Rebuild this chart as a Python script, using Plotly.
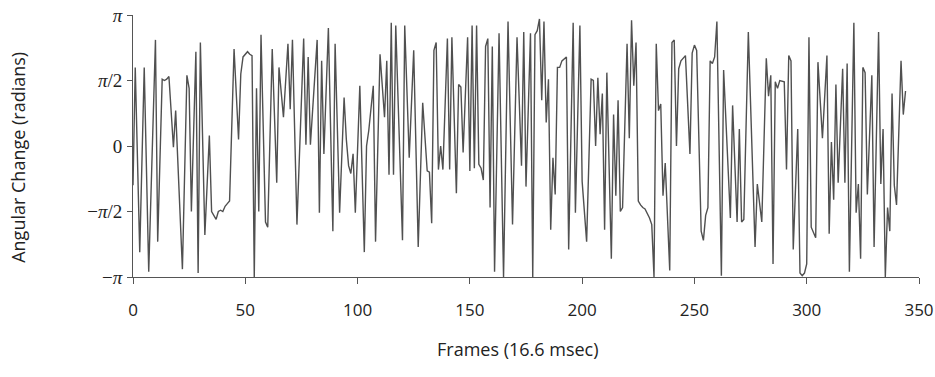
import numpy as np
import plotly.graph_objects as go

# frame indices of line vertices and angular change (in units of pi)
frames = [0, 1, 3, 5, 7, 10, 11, 13, 14, 15, 16, 18, 19, 22, 24, 25, 26, 28, 29, 30,
          32, 34, 35, 36, 37, 38, 39, 40, 41, 42, 43, 45, 47, 48, 49, 51, 52, 53, 54, 55,
          56, 57, 59, 60, 62, 64, 65, 67, 69, 70, 71, 73, 76, 77, 78, 79, 82, 83, 84, 85,
          87, 89, 90, 92, 94, 95, 96, 97, 98, 99, 101, 103, 104, 105, 107, 108, 110, 112, 113, 114,
          115, 116, 117, 120, 121, 123, 125, 127, 129, 131, 132, 133, 134, 135, 136, 137, 138, 140, 141, 142,
          144, 145, 146, 147, 149, 150, 151, 152, 153, 154, 155, 156, 157, 158, 159, 160, 161, 163, 165, 167,
          169, 171, 173, 174, 175, 177, 178, 179, 180, 181, 182, 183, 184, 185, 186, 187, 188, 189, 190, 191,
          193, 194, 196, 197, 199, 200, 202, 204, 205, 206, 207, 208, 209, 210, 211, 213, 214, 215, 216, 217,
          218, 220, 221, 222, 223, 224, 225, 226, 227, 228, 230, 231, 232, 233, 234, 235, 236, 237, 239, 240,
          241, 242, 243, 244, 246, 248, 249, 250, 251, 253, 254, 255, 256, 257, 258, 259, 260, 262, 263, 266,
          267, 269, 270, 271, 272, 274, 277, 278, 280, 282, 283, 284, 285, 286, 287, 288, 290, 291, 292, 293,
          294, 296, 297, 298, 299, 300, 301, 302, 304, 305, 307, 309, 310, 311, 312, 313, 314, 316, 317, 318,
          319, 321, 322, 323, 324, 325, 326, 327, 329, 330, 332, 333, 334, 335, 336, 337, 338, 339, 340, 342,
          343, 344]
change_pi = [-0.30, 0.60, -0.81, 0.60, -0.96, 0.81, -0.73, 0.51, 0.50, 0.51, 0.53, -0.01, 0.27, -0.94, 0.54, 0.44, -0.50, 0.72, -0.97, 0.79,
             -0.68, 0.08, -0.50, -0.53, -0.56, -0.50, -0.49, -0.50, -0.46, -0.44, -0.42, 0.74, 0.05, 0.55, 0.68, 0.72, 0.70, 0.69, -1.00, 0.44,
             -0.50, 0.85, -0.58, -0.62, 0.74, -0.28, 0.60, 0.22, 0.78, 0.28, 0.81, -0.60, 0.82, 0.01, 0.68, 0.01, 0.81, -0.51, 0.65, -0.06,
             0.90, -0.65, 0.78, -0.51, 0.37, 0.05, -0.15, -0.21, -0.06, -0.51, 0.46, -0.81, 0.00, 0.12, 0.46, -0.73, 0.70, 0.22, 0.65, -0.22,
             0.94, -0.22, 0.92, -0.72, 0.92, -0.09, 0.73, -0.77, 0.33, -0.19, -0.20, -0.59, 0.73, 0.79, -0.18, 0.00, -0.18, 0.82, -0.18, 0.83,
             -0.36, 0.47, 0.45, -0.05, 0.83, -0.19, 0.92, -0.17, 0.92, -0.14, -0.17, -0.26, 0.76, 0.82, -0.47, 0.76, -0.96, 0.86, -1.00, 0.95,
             -0.60, 0.83, -0.15, 0.87, -0.31, 0.86, -1.00, 0.85, 0.88, 0.97, 0.35, 0.95, 0.18, 0.51, -0.64, -0.09, -0.37, 0.60, 0.60, 0.65,
             0.68, -0.79, 0.94, -0.51, 0.92, -0.27, -0.73, 0.51, 0.50, 0.00, 0.52, 0.09, 0.40, -0.64, 0.56, -0.86, 0.24, -0.38, 0.35, -0.50,
             -0.47, 0.78, 0.06, 0.96, 0.46, 0.79, -0.42, -0.45, -0.47, -0.48, -0.55, -0.60, -1.00, 0.78, 0.27, 0.32, -0.38, -0.13, -0.95, 0.79,
             0.81, 0.00, 0.59, 0.65, 0.69, -0.06, 0.71, 0.77, 0.73, -0.65, -0.72, -0.53, -0.47, 0.65, 0.63, 0.68, 0.95, -0.99, 0.58, -0.55,
             0.31, -0.58, 0.13, -0.58, -0.56, 0.87, -0.77, -0.29, -0.58, 0.67, 0.38, 0.54, -0.90, 0.49, 0.44, 0.50, 0.49, -0.18, 0.69, 0.65,
             -0.79, 0.13, -0.97, -0.99, -0.97, -0.90, 0.83, -0.62, -0.70, 0.64, 0.06, 0.69, -0.67, 0.03, -0.41, 0.47, -0.28, 0.59, -0.28, 0.63,
             -0.96, 0.94, -0.51, -0.29, -0.86, 0.60, 0.56, -0.37, 0.54, -0.77, 0.87, -0.29, 0.13, -1.00, -0.47, -0.65, 0.40, -0.30, -0.45, 0.65,
             0.24, 0.42]

x_ticks = [0, 50, 100, 150, 200, 250, 300, 350]
y_tick_vals_pi = [-1, -0.5, 0, 0.5, 1]
y_tick_text = ["\u2212<i>\u03c0</i>", "\u2212<i>\u03c0</i>/2", "0", "<i>\u03c0</i>/2", "<i>\u03c0</i>"]
x_title = "Frames (16.6 msec)"
y_title = "Angular Change (radians)"

y = np.array(change_pi) * np.pi

sans = "Open Sans, Lato, sans-serif"

fig = go.Figure()
fig.add_trace(go.Scatter(x=frames, y=y, mode="lines",
                         line=dict(color="#505050", width=1.4),
                         hoverinfo="skip"))

fig.update_layout(
    width=935, height=377,
    margin=dict(l=133, r=16, t=15, b=100, autoexpand=False),
    paper_bgcolor="white", plot_bgcolor="white",
    showlegend=False,
    font=dict(family=sans, color="#222"),
    annotations=[
        dict(text=x_title, xref="paper", yref="paper", x=0.49, y=-0.275,
             xanchor="center", yanchor="middle", showarrow=False,
             font=dict(size=18, family=sans, color="#222")),
        dict(text=y_title, xref="paper", yref="paper", x=-0.1463, y=0.455,
             xanchor="center", yanchor="middle", showarrow=False, textangle=-90,
             font=dict(size=18, family=sans, color="#222")),
    ],
)
fig.update_xaxes(range=[0, 350], tickvals=x_ticks, showgrid=False, zeroline=False,
                 automargin=False,
                 showline=True, linecolor="#555", linewidth=1,
                 ticks="outside", ticklen=6, tickcolor="#555",
                 tickfont=dict(size=17, family=sans, color="#222"),
                 ticklabelstandoff=12)
fig.update_yaxes(range=[-np.pi, np.pi], tickvals=[v * np.pi for v in y_tick_vals_pi],
                 automargin=False,
                 ticktext=y_tick_text, showgrid=False, zeroline=False,
                 showline=True, linecolor="#555", linewidth=1,
                 ticks="outside", ticklen=5, tickcolor="#555",
                 tickfont=dict(size=19, family="Liberation Serif, DejaVu Serif, serif", color="#222"),
                 ticklabelstandoff=1)

fig.write_html("out.html", config={"displayModeBar": False},
               post_script="document.body.style.margin='0';")
